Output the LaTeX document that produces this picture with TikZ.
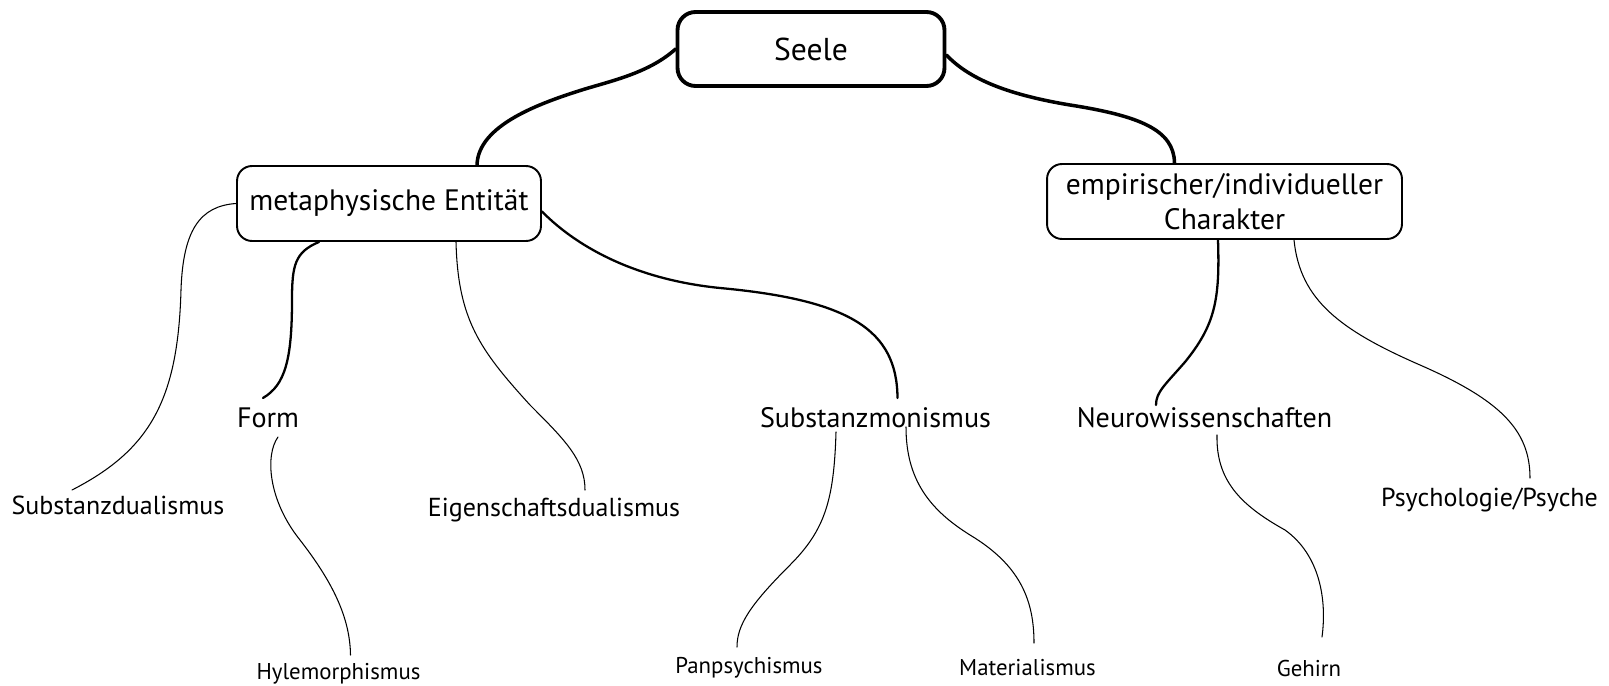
\documentclass[tikz,border=0pt]{standalone}
\usepackage{fontspec}
\setmainfont{PT Sans}
\usetikzlibrary{calc}
\begin{document}
\begin{tikzpicture}[x=0.02cm, y=-0.02cm,
  topbox/.style={draw, line width=2.2pt, rounded corners=0.36cm, minimum width=5.34cm, minimum height=1.48cm, font=\fontsize{18}{21}\selectfont},
  catbox/.style={draw, line width=1.1pt, rounded corners=0.3cm, minimum height=1.5cm, align=center, font=\fontsize{16.8}{19.8}\selectfont},
  lvltwo/.style={inner sep=0pt, font=\fontsize{16}{19}\selectfont},
  lvlthree/.style={inner sep=0pt, font=\fontsize{14.8}{17}\selectfont},
  lvlfour/.style={inner sep=0pt, font=\fontsize{13}{15}\selectfont},
  thickbranch/.style={line width=2pt, line cap=round},
  midbranch/.style={line width=1.3pt, line cap=round},
  thinbranch/.style={line width=0.6pt, line cap=round}]
\useasboundingbox (0,0) rectangle (1609,686);

% Kästen
\node[topbox] (seele) at (811,49) {Seele};
\node[catbox, minimum width=6.08cm] (meta) at (389,203.5) {metaphysische Entität};
\node[catbox, minimum width=7.1cm] (char) at (1224.5,201.5) {empirischer/individueller\\Charakter};

% Begriffe
\node[lvltwo] (form) at (268,418) {Form};
\node[lvltwo] (submono) at (875.5,418) {Substanzmonismus};
\node[lvltwo] (neuro) at (1204.5,418) {Neurowissenschaften};
\node[lvlthree] (subdual) at (118,505) {Substanzdualismus};
\node[lvlthree] (eigen) at (554,510) {Eigenschaftsdualismus};
\node[lvlthree] (psych) at (1489.5,500) {Psychologie/Psyche};
\node[lvlfour] (hyle) at (338.5,674) {Hylemorphismus};
\node[lvlfour] (panpsy) at (749,668) {Panpsychismus};
\node[lvlfour] (materia) at (1027.5,668) {Materialismus};
\node[lvlfour] (gehirn) at (1309,668) {Gehirn};

% Äste
\draw[thickbranch] (seele.west) .. controls (650,72) and (615,80) .. (585,89)
  .. controls (540,103) and (478,125) .. ($(meta.north)+(88,0)$);
\draw[thickbranch] ($(seele.east)+(0,6)$) .. controls (970,80) and (1010,95) .. (1070,105)
  .. controls (1140,116) and (1174,130) .. ($(char.north)+(-50,0)$);

\draw[thinbranch] (meta.west) .. controls (200,206) and (183,230) .. (181,290)
  .. controls (178,400) and (150,450) .. ($(subdual)+(-46,-15)$);
\draw[midbranch] ($(meta.south)+(-70,0)$) .. controls (295,252) and (292,265) .. (292,300)
  .. controls (292,360) and (285,385) .. ($(form)+(-5,-20)$);
\draw[thinbranch] ($(meta.south)+(67,0)$) .. controls (458,320) and (480,350) .. (530,405)
  .. controls (565,440) and (585,460) .. ($(eigen)+(31,-20)$);
\draw[midbranch] ($(meta.east)+(0,8)$) .. controls (580,250) and (640,280) .. (720,288)
  .. controls (850,300) and (897,330) .. ($(submono)+(22,-20)$);

\draw[thinbranch] ($(form)+(10,19)$) .. controls (265,455) and (268,500) .. (300,540)
  .. controls (335,585) and (350,620) .. ($(hyle)+(12,-19)$);
\draw[thinbranch] ($(submono)+(-39.5,14)$) .. controls (834,500) and (825,530) .. (790,565)
  .. controls (750,605) and (737,625) .. ($(panpsy)+(-12,-21)$);
\draw[thinbranch] ($(submono)+(30.5,9)$) .. controls (906,480) and (930,510) .. (970,535)
  .. controls (1020,565) and (1034,600) .. ($(materia)+(6.5,-25)$);

\draw[midbranch] ($(char.south)+(-6.5,0)$) .. controls (1220,300) and (1215,325) .. (1185,362)
  .. controls (1165,385) and (1156,392) .. ($(neuro)+(-48.5,-13)$);
\draw[thinbranch] ($(char.south)+(69.5,0)$) .. controls (1300,300) and (1340,330) .. (1420,365)
  .. controls (1500,400) and (1530,430) .. ($(psych)+(40.5,-22)$);
\draw[thinbranch] ($(neuro)+(12.5,17)$) .. controls (1216,480) and (1240,505) .. (1285,530)
  .. controls (1320,555) and (1327,600) .. ($(gehirn)+(13,-31)$);
\end{tikzpicture}
\end{document}
